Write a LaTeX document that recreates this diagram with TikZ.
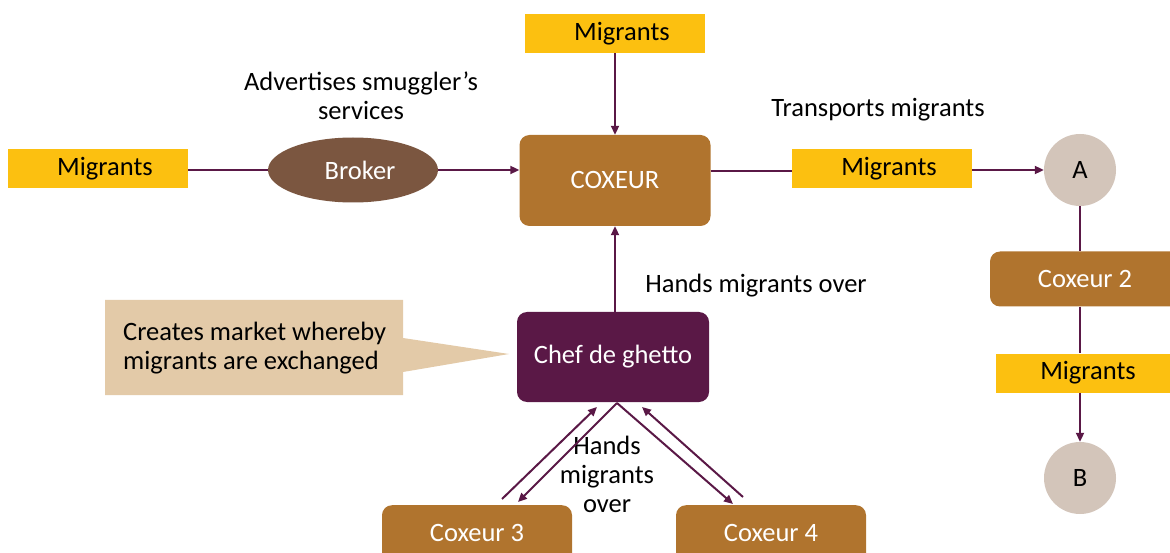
\documentclass[tikz,border=0pt]{standalone}
\usepackage{fontspec}
\setmainfont{Carlito}
\usetikzlibrary{arrows.meta,shapes.geometric}
\definecolor{gold}{HTML}{FCC010}
\definecolor{brokerc}{HTML}{7B5640}
\definecolor{coxc}{HTML}{B0742E}
\definecolor{chefc}{HTML}{5A1846}
\definecolor{linec}{HTML}{5A1846}
\definecolor{circc}{HTML}{D3C5BA}
\definecolor{callc}{HTML}{E3CAA8}
\tikzset{
  x=1pt,y=-1pt,
  every node/.style={font=\fontsize{26.5}{29}\selectfont, inner sep=0pt},
  migbox/.style={fill=gold, minimum width=180pt, minimum height=39pt, text=black},
  padl/.style={execute at begin node=\hspace*{14pt}},
  coxbox/.style={fill=coxc, rounded corners=10pt, text=white},
  circ/.style={circle, fill=circc, minimum size=72pt, text=black},
  conn/.style={draw=linec, line width=2pt},
  arr/.style={conn, -{Triangle[length=9pt,width=8pt]}},
  lbl/.style={text=black, align=center}
}
\begin{document}
\begin{tikzpicture}
\useasboundingbox (0,0) rectangle (1170,553);
% nodes
\node[migbox, padl] (m1) at (98,169) {Migrants};
\node[ellipse, fill=brokerc, minimum width=170pt, minimum height=65pt, text=white, padl] (broker) at (353,170) {Broker};
\node[coxbox, minimum width=191pt, minimum height=91pt] (cox) at (615,180.5) {COXEUR};
\node[migbox, padl] (m0) at (615,33.5) {Migrants};
\node[migbox, padl] (m2) at (882,169) {Migrants};
\node[circ] (A) at (1080,170) {A};
\node[coxbox, minimum width=190pt, minimum height=55pt] (c2) at (1085,279) {Coxeur 2};
\node[migbox, minimum width=184pt] (m3) at (1088,373) {Migrants};
\node[circ] (B) at (1080,478) {B};
\node[fill=chefc, rounded corners=10pt, text=white, minimum width=192pt, minimum height=90pt] (chef) at (613,357) {Chef de ghetto};
\node[coxbox, minimum width=190pt, minimum height=60pt, anchor=north] (c3) at (477,505) {};
\node[text=white] at (477,533) {Coxeur 3};
\node[coxbox, minimum width=190pt, minimum height=60pt, anchor=north] (c4) at (771,505) {};
\node[text=white] at (771,533) {Coxeur 4};
% callout
\fill[callc] (105,300) -- (403,300) -- (403,338) -- (509,354) -- (403,372) -- (403,395) -- (105,395) -- cycle;
\node[lbl, align=left, anchor=west] (call) at (123,348) {Creates market whereby\\migrants are exchanged};
% labels
\node[lbl] (adv) at (361,96) {Advertises smuggler's\\services};
\node[lbl] (trans) at (878,110) {Transports migrants};
\node[lbl] (hand) at (756,286) {Hands migrants over};
\node[lbl] (hand2) at (607,474) {Hands\\migrants\\over};
% connectors
\draw[conn] (m1.east |- broker.west) -- (broker.west);
\draw[arr] (broker.east) -- (broker.east -| cox.west);
\draw[arr] (m0.south) -- (cox.north);
\draw[conn] (cox.east |- 0,171) -- (m2.west |- 0,171);
\draw[arr] (m2.east |- A.west) -- (A.west);
\draw[conn] (A.south) -- (c2.north -| A.south);
\draw[conn] (c2.south -| A.south) -- (m3.north -| A.south);
\draw[arr] (m3.south -| B.north) -- (B.north);
\draw[arr] (chef.north -| cox.south) -- (cox.south);
\coordinate (cb) at (617,403);
\coordinate (c3a) at (502,499);
\coordinate (c3t) at (597,407);
\coordinate (c3b) at (518,502);
\coordinate (c4b) at (733,504);
\coordinate (c4a) at (743,497);
\coordinate (c4t) at (642,407);
\draw[arr] (c3a) -- (c3t);
\draw[arr] (cb) -- (c3b);
\draw[arr] (cb) -- (c4b);
\draw[arr] (c4a) -- (c4t);
\end{tikzpicture}
\end{document}
